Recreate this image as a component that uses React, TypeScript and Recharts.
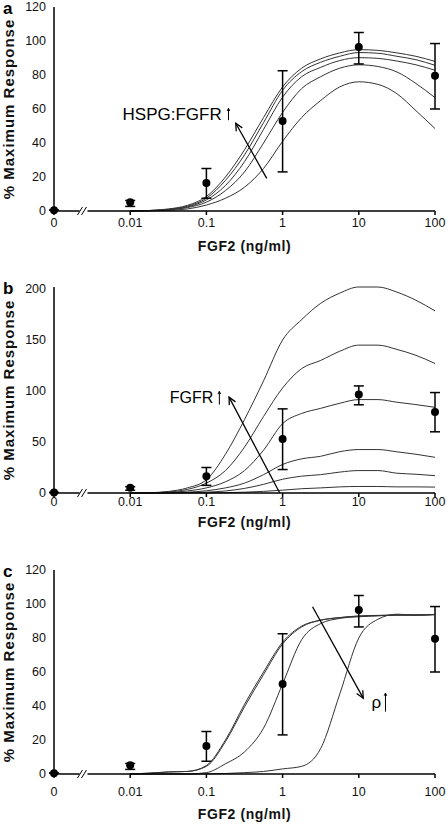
import type { ReactNode } from 'react';
import { ComposedChart, Line, Scatter, ErrorBar, XAxis, YAxis, ReferenceLine, ReferenceDot } from 'recharts';

// measured points (same in all three panels)
const concentrations = [0, 0.01, 0.1, 1, 10, 100];
const tickLabels = ['0', '0.01', '0.1', '1', '10', '100'];
const measured = [0.5, 5.2, 16.5, 53, 96.5, 79.5];
const errLow = [0, 2.5, 9, 30, 10, 19.5];
const errHigh = [0, 1, 8.5, 29.5, 8.5, 19];

// model curves, sampled on a log10 grid of FGF2 (ng/ml)
const curveLogX = [-2, -1.75, -1.5, -1.25, -1, -0.75, -0.5, -0.25, 0, 0.25, 0.5, 0.75, 1, 1.25, 1.5, 1.75, 2];

// a: HSPG:FGFR ratio
const a1 = [0, 0.1, 0.4, 1.2, 3.5, 7.5, 14, 25, 41, 55, 65, 73, 76, 74.5, 69, 59, 48.5];
const a2 = [0, 0.2, 0.7, 2, 5.2, 12, 23, 40, 58, 72, 79, 84, 86, 85, 81.8, 75, 66.7];
const a3 = [0, 0.2, 0.8, 2.4, 6.5, 15, 29, 48, 67, 79, 84.5, 88.5, 90.2, 89.8, 88.2, 86, 82.8];
const a4 = [0, 0.3, 1, 2.8, 7.5, 18, 33, 52, 71, 82, 87.5, 91, 93.2, 92.8, 91, 89, 85.7];
const a5 = [0, 0.3, 1.2, 3.3, 8.5, 20, 36, 55, 73, 84, 89.5, 93, 94.9, 94.5, 93, 91, 88];

// b: FGFR density
const b1 = [0, 0, 0, 0, 0.1, 0.3, 0.8, 1.6, 2.8, 4.2, 5, 6, 6.4, 6.4, 6, 6, 5.8];
const b2 = [0, 0, 0.1, 0.3, 0.8, 2, 4.5, 8.5, 13.5, 16.5, 18, 20.5, 22, 22, 19.4, 18.4, 17];
const b3 = [0, 0, 0.2, 0.8, 2.2, 5, 9.7, 18, 28, 33.5, 36, 40.5, 42.6, 42.6, 40.4, 38, 35];
const b4 = [0, 0.1, 0.5, 2, 5, 11, 22, 42, 68, 78, 83, 88, 91.6, 91.6, 89, 86.7, 84];
const b5 = [0, 0.2, 1, 3.5, 9.7, 22, 45, 75, 103, 122, 130, 139, 145, 145, 140.8, 135, 127];
const b6 = [0, 0.3, 1.5, 5, 13, 38, 72, 110, 150, 170, 186, 196, 202, 202, 197, 189, 178.6];

// c: rho
const c1 = [0, 0.5, 1.2, 1.5, 5, 20, 41, 60, 77.5, 87, 90.5, 92, 93, 93.3, 93.5, 93.5, 93.8];
const c2 = [0, 0.5, 1.2, 1.5, 4.5, 19, 39.5, 58.5, 76.5, 86.5, 90.5, 92, 92.8, 93.2, 93.5, 93.5, 93.8];
const c3 = [0, 0, 0, 0, 0.8, 6, 13, 27, 53, 79, 88.5, 91.5, 92.5, 93, 93.5, 93.5, 93.8];
const c4 = [0, 0, 0, 0, 0.1, 0.3, 0.8, 1.5, 3, 4.5, 15, 47, 80, 91, 94, 93.5, 93.8];

const toX = (c: number) => (c === 0 ? -3 : Math.log10(c));
const xTicks = concentrations.map(toX);

const points = measured.map((y, i) => ({ x: toX(concentrations[i]), y, err: [errLow[i], errHigh[i]] }));

const buildRows = (series: number[][]) =>
    curveLogX.map((x, i) => {
        const row: Record<string, number> = { x };
        series.forEach((s, k) => (row['s' + k] = s[i]));
        return row;
    });

const FONT = '"Liberation Sans", Arial, sans-serif';

const arrowShape = (head: number, width = 1.3) => (p: any) => {
    const { x1, y1, x2, y2 } = p;
    const ang = Math.atan2(y2 - y1, x2 - x1);
    const h1 = ang + Math.PI - 0.45;
    const h2 = ang + Math.PI + 0.45;
    return (
        <g stroke="#000" strokeWidth={width} fill="none">
            <line x1={x1} y1={y1} x2={x2} y2={y2} />
            <polyline
                points={`${x2 + head * Math.cos(h1)},${y2 + head * Math.sin(h1)} ${x2},${y2} ${x2 + head * Math.cos(h2)},${y2 + head * Math.sin(h2)}`}
            />
        </g>
    );
};

const textShape = (label: string, size: number) => (p: any) => (
    <text x={p.cx} y={p.cy} fontSize={size} fontFamily={FONT} fill="#000">
        {label}
    </text>
);

const breakShape = (p: any) => (
    <g>
        <rect x={p.cx - 5} y={p.cy - 2} width={8} height={4} fill="#fff" />
        <line x1={p.cx - 7} y1={p.cy + 4} x2={p.cx - 2} y2={p.cy - 4} stroke="#000" strokeWidth={1} />
        <line x1={p.cx - 3} y1={p.cy + 4} x2={p.cx + 2} y2={p.cy - 4} stroke="#000" strokeWidth={1} />
    </g>
);

interface PanelProps {
    series: number[][];
    yMax: number;
    yTicks: number[];
    height: number;
    marginTop: number;
    axisHeight: number;
    titleOffset: number;
    tickMargin: number;
    children?: ReactNode;
}

const Panel = ({ series, yMax, yTicks, height, marginTop, axisHeight, titleOffset, tickMargin, children }: PanelProps) => (
    <ComposedChart
        width={448}
        height={height}
        data={buildRows(series)}
        margin={{ top: marginTop, right: 13, left: 0, bottom: 0 }}
        style={{ fontFamily: FONT }}
    >
        <XAxis
            type="number"
            dataKey="x"
            domain={[-3, 2]}
            ticks={xTicks}
            tickFormatter={(v: number) => tickLabels[xTicks.indexOf(v)] ?? ''}
            interval={0}
            height={axisHeight}
            tickSize={4}
            tickMargin={tickMargin}
            stroke="#000"
            strokeWidth={1.5}
            tick={{ fill: '#111', fontSize: 12.5 }}
            label={{ value: 'FGF2 (ng/ml)', position: 'insideBottom', offset: titleOffset, style: { fontWeight: 'bold', fontSize: 14, letterSpacing: 0.6, fill: '#111' } }}
        />
        <YAxis
            type="number"
            domain={[0, yMax]}
            ticks={yTicks}
            interval={0}
            width={54}
            tickLine={false}
            stroke="#000"
            strokeWidth={1.5}
            tick={{ fill: '#111', fontSize: 12.5 }}
            label={{ value: '% Maximum Response', angle: -90, position: 'insideLeft', offset: 9, style: { textAnchor: 'middle', fontWeight: 'bold', fontSize: 15, letterSpacing: 1, fill: '#111' } }}
        />
        {series.map((_, k) => (
            <Line key={k} type="monotone" dataKey={'s' + k} stroke="#333" strokeWidth={1} dot={false} isAnimationActive={false} />
        ))}
        <Scatter data={points} dataKey="y" fill="#000" shape={(p: any) => <circle cx={p.cx} cy={p.cy} r={4} fill="#000" />} isAnimationActive={false}>
            <ErrorBar dataKey="err" width={5} stroke="#000" strokeWidth={1.5} direction="y" />
        </Scatter>
        <ReferenceDot x={-2.6} y={0} r={0} ifOverflow="visible" shape={breakShape} />
        {children}
    </ComposedChart>
);

const letterStyle = { position: 'absolute' as const, left: 3, fontFamily: FONT, fontWeight: 'bold' as const, fontSize: 17, lineHeight: '17px' };

export default function App() {
    return (
        <div style={{ position: 'absolute', left: 0, top: 0, width: 448, height: 826, background: '#fff' }}>
            <div style={{ position: 'absolute', left: 0, top: 0 }}>
                <Panel series={[a1, a2, a3, a4, a5]} yMax={120} yTicks={[0, 20, 40, 60, 80, 100, 120]} height={268} marginTop={7} axisHeight={57} titleOffset={17} tickMargin={3}>
                    <ReferenceLine segment={[{ x: -0.208, y: 19.2 }, { x: -0.615, y: 51.6 }]} ifOverflow="visible" shape={arrowShape(8)} />
                    <ReferenceDot x={-2.1} y={53.8} r={0} ifOverflow="visible" shape={textShape('HSPG:FGFR', 17)} />
                    <ReferenceLine segment={[{ x: -0.71, y: 53.4 }, { x: -0.71, y: 60.4 }]} ifOverflow="visible" shape={arrowShape(3, 1)} />
                </Panel>
            </div>
            <div style={{ position: 'absolute', left: 0, top: 268 }}>
                <Panel series={[b1, b2, b3, b4, b5, b6]} yMax={200} yTicks={[0, 50, 100, 150, 200]} height={277} marginTop={19} axisHeight={52} titleOffset={18} tickMargin={0}>
                    <ReferenceLine segment={[{ x: -0.037, y: 0 }, { x: -0.703, y: 94 }]} ifOverflow="visible" shape={arrowShape(8)} />
                    <ReferenceDot x={-1.48} y={88.6} r={0} ifOverflow="visible" shape={textShape('FGFR', 16)} />
                    <ReferenceLine segment={[{ x: -0.83, y: 86.7 }, { x: -0.83, y: 99.6 }]} ifOverflow="visible" shape={arrowShape(3, 1)} />
                </Panel>
            </div>
            <div style={{ position: 'absolute', left: 0, top: 545 }}>
                <Panel series={[c1, c2, c3, c4]} yMax={120} yTicks={[0, 20, 40, 60, 80, 100, 120]} height={281} marginTop={25} axisHeight={52} titleOffset={7} tickMargin={9}>
                    <ReferenceLine segment={[{ x: 0.393, y: 98.4 }, { x: 1.058, y: 44.6 }]} ifOverflow="visible" shape={arrowShape(8)} />
                    <ReferenceDot x={1.168} y={38.9} r={0} ifOverflow="visible" shape={textShape('ρ', 17)} />
                    <ReferenceLine segment={[{ x: 1.35, y: 36.7 }, { x: 1.35, y: 47.6 }]} ifOverflow="visible" shape={arrowShape(3, 1)} />
                </Panel>
            </div>
            <div style={{ ...letterStyle, top: 0 }}>a</div>
            <div style={{ ...letterStyle, top: 280 }}>b</div>
            <div style={{ ...letterStyle, top: 563 }}>c</div>
        </div>
    );
}
